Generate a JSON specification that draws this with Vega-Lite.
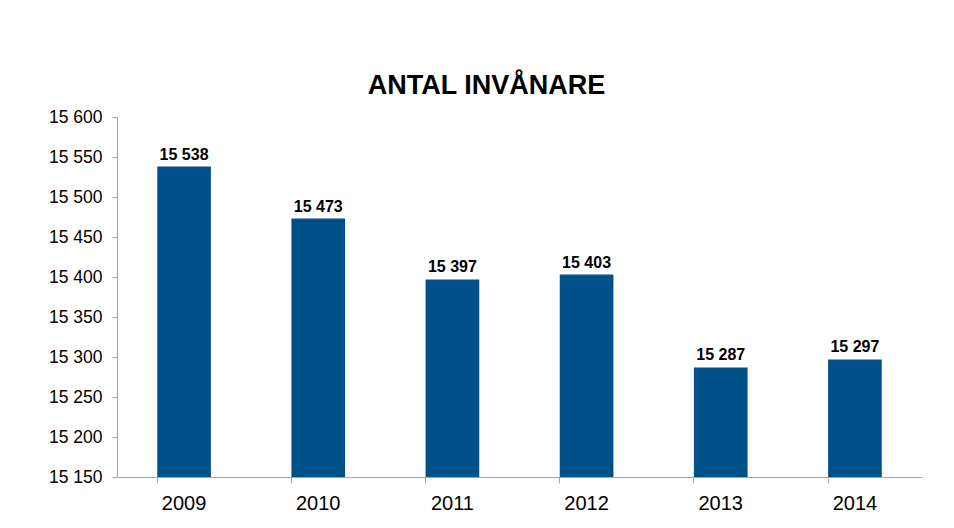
{
  "$schema": "https://vega.github.io/schema/vega-lite/v6.json",
  "width": 805,
  "height": 360,
  "autosize": {"type": "none"},
  "padding": {"left": 117, "top": 117, "right": 32, "bottom": 51},
  "background": "white",
  "title": {
    "text": "ANTAL INVÅNARE",
    "font": "Liberation Sans",
    "fontSize": 27,
    "fontWeight": "bold",
    "color": "black",
    "anchor": "middle",
    "frame": "group",
    "dx": -33,
    "offset": 8
  },
  "config": {
    "view": {"stroke": null},
    "font": "Liberation Sans",
    "locale": {
      "number": {"decimal": ",", "thousands": " ", "grouping": [3], "currency": ["", " kr"]}
    }
  },
  "data": {
    "values": [
      {"year": "2009", "value": 15538},
      {"year": "2010", "value": 15473},
      {"year": "2011", "value": 15397},
      {"year": "2012", "value": 15403},
      {"year": "2013", "value": 15287},
      {"year": "2014", "value": 15297}
    ]
  },
  "encoding": {
    "x": {
      "field": "year",
      "type": "nominal",
      "scale": {"paddingInner": 0.6, "paddingOuter": 0.3},
      "axis": {
        "title": null,
        "labelAngle": 0,
        "labelFontSize": 20,
        "labelColor": "black",
        "labelPadding": 10,
        "domainColor": "#a6a6a6",
        "tickColor": "#a6a6a6",
        "ticks": true,
        "tickSize": 6,
        "bandPosition": 0
      }
    },
    "y": {
      "field": "value",
      "type": "quantitative",
      "scale": {"domain": [15150, 15600], "zero": false, "nice": false},
      "axis": {
        "title": null,
        "values": [15150, 15200, 15250, 15300, 15350, 15400, 15450, 15500, 15550, 15600],
        "format": ",.0f",
        "labelFontSize": 17.5,
        "labelColor": "black",
        "labelPadding": 10,
        "grid": false,
        "domainColor": "#a6a6a6",
        "tickColor": "#a6a6a6",
        "tickSize": 5
      }
    }
  },
  "layer": [
    {"mark": {"type": "bar", "color": "#00518a", "clip": true}},
    {
      "mark": {"type": "text", "dy": -12, "fontSize": 16, "fontWeight": "bold", "color": "black"},
      "encoding": {
        "text": {"field": "value", "type": "quantitative", "format": ",.0f"}
      }
    }
  ]
}
